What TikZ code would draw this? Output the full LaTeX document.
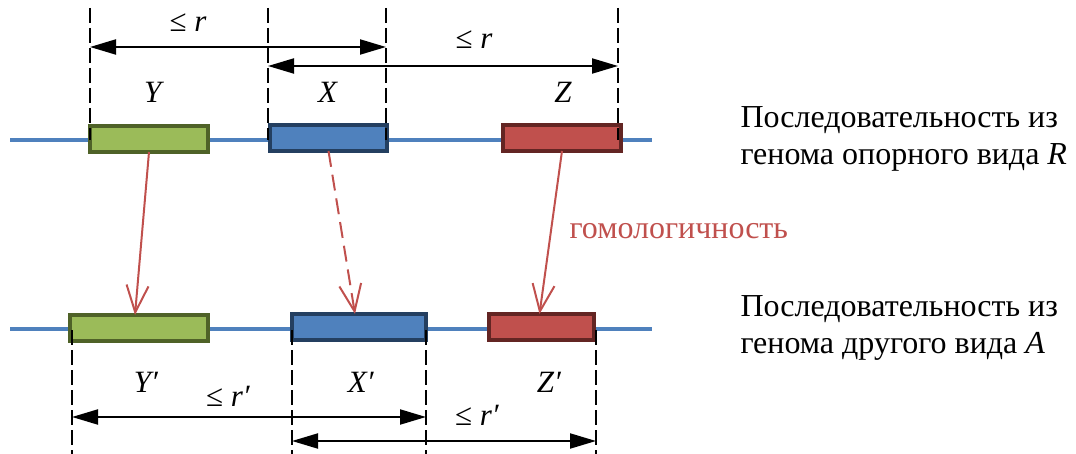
\documentclass[tikz,border=0pt]{standalone}
\usepackage{fontspec}
\setmainfont{Liberation Serif}
\usetikzlibrary{arrows.meta}
\definecolor{seqblue}{HTML}{4F81BD}
\definecolor{gngreen}{HTML}{9BBB59}
\definecolor{gngreendk}{HTML}{4F6228}
\definecolor{gnblue}{HTML}{4F81BD}
\definecolor{gnbluedk}{HTML}{243F60}
\definecolor{gnred}{HTML}{C0504D}
\definecolor{gnreddk}{HTML}{632523}
\begin{document}
\begin{tikzpicture}[
  x=1pt, y=-1pt,
  gene/.style={
    rectangle, line width=4pt, minimum height=26pt,
    inner sep=0pt, outer sep=0pt
  },
  seq/.style={draw=seqblue, line width=4.5pt},
  guide/.style={black, line width=1.5pt, dash pattern=on 15pt off 5pt},
  dim/.style={{Triangle[length=26pt,width=15pt]}-{Triangle[length=26pt,width=15pt]},
    black, line width=2pt},
  homol/.style={-{Straight Barb[length=27pt,width=22pt]}, draw=gnred, line width=2pt},
  lbl/.style={font=\fontsize{31}{34}\selectfont},
  desc/.style={font=\fontsize{32}{37}\selectfont, align=left, anchor=west},
]
\useasboundingbox (0,0) rectangle (1076,454);

% --- Sequence of reference genome R ---
\coordinate (rs) at (10,140);
\coordinate (re) at (652,140);
\draw[seq] (rs) -- (re);
\node[gene, fill=gngreen, draw=gngreendk, minimum width=118pt] (Yt) at (149,139) {};
\node[gene, fill=gnblue, draw=gnbluedk, minimum width=117pt] (Xt) at (328.5,138) {};
\node[gene, fill=gnred, draw=gnreddk, minimum width=118pt] (Zt) at (562,138) {};

% --- Sequence of other genome A ---
\coordinate (as) at (10,329);
\coordinate (ae) at (652,329);
\draw[seq] (as) -- (ae);
\node[gene, fill=gngreen, draw=gngreendk, minimum width=138pt] (Yb) at (139,328) {};
\node[gene, fill=gnblue, draw=gnbluedk, minimum width=134pt] (Xb) at (359,327) {};
\node[gene, fill=gnred, draw=gnreddk, minimum width=105pt] (Zb) at (541.5,327) {};

% --- Guides, top ---
\foreach \gx [count=\i] in {90,268,386,618} {
  \coordinate (tg\i) at (\gx,8);
  \coordinate (tb\i) at (\gx,140);
  \draw[guide] (tg\i) -- (tb\i);
}
\coordinate (d1s) at (90,47);   \coordinate (d1e) at (386,47);
\coordinate (d2s) at (268,66);  \coordinate (d2e) at (618,66);
\draw[dim] (d1s) -- (d1e);
\draw[dim] (d2s) -- (d2e);
\node[lbl] (lr1) at (188,23) {≤ \textit{r}};
\node[lbl] (lr2) at (474,40) {≤ \textit{r}};
\node[lbl] (lY) at (154,92) {\textit{Y}};
\node[lbl] (lX) at (328,92) {\textit{X}};
\node[lbl] (lZ) at (563,92) {\textit{Z}};

% --- Guides, bottom ---
\foreach \gx [count=\i] in {72,292,426,596} {
  \coordinate (bg\i) at (\gx,330);
  \coordinate (bb\i) at (\gx,454);
  \draw[guide] (bg\i) -- (bb\i);
}
\coordinate (e1s) at (72,417);   \coordinate (e1e) at (426,417);
\coordinate (e2s) at (292,441);  \coordinate (e2e) at (596,441);
\draw[dim] (e1s) -- (e1e);
\draw[dim] (e2s) -- (e2e);
\node[lbl] (lr3) at (228,396) {≤ \textit{r′}};
\node[lbl] (lr4) at (477,415) {≤ \textit{r′}};
\node[lbl] (lYp) at (146,382) {\textit{Y′}};
\node[lbl] (lXp) at (361,382) {\textit{X′}};
\node[lbl] (lZp) at (549,382) {\textit{Z′}};

% --- Homology ---
\draw[homol] (Yt.south) -- ([xshift=-4pt]Yb.north);
\draw[homol, dash pattern=on 16pt off 8pt] (Xt.south) -- ([xshift=-4pt]Xb.north);
\draw[homol] (Zt.south) -- ([xshift=-2pt]Zb.north);
\node[font=\fontsize{32}{37}\selectfont, text=gnred, anchor=west] (hom) at (566,231) {гомологичность};

% --- Descriptions ---
\node[desc] (descR) at (737,139) {Последовательность из\\генома опорного вида \textit{R}};
\node[desc] (descA) at (737,328) {Последовательность из\\генома другого вида \textit{A}};

\end{tikzpicture}
\end{document}
